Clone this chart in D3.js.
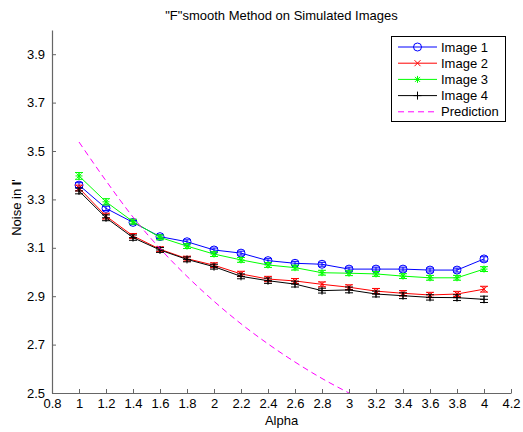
<!DOCTYPE html>
<html>
<head>
<meta charset="utf-8">
<script src="https://cdn.jsdelivr.net/npm/d3@7"></script>
<style>
  html, body { margin: 0; padding: 0; background: #fff; }
  svg { display: block; font-family: "Liberation Sans", Arial, Helvetica, sans-serif; }
</style>
</head>
<body>
<svg id="chart" width="523" height="432"></svg>
<script>
// ---- data ----
const alphas = [1.0, 1.2, 1.4, 1.6, 1.8, 2.0, 2.2, 2.4, 2.6, 2.8, 3.0, 3.2, 3.4, 3.6, 3.8, 4.0];
const image1 = [3.359, 3.263, 3.205, 3.146, 3.125, 3.091, 3.078, 3.047, 3.036, 3.032, 3.012, 3.012, 3.012, 3.008, 3.008, 3.054];
const image2 = [3.347, 3.231, 3.149, 3.094, 3.055, 3.028, 2.992, 2.971, 2.963, 2.949, 2.937, 2.921, 2.912, 2.905, 2.909, 2.929];
const image3 = [3.397, 3.290, 3.208, 3.143, 3.107, 3.074, 3.050, 3.029, 3.018, 2.997, 2.995, 2.992, 2.983, 2.976, 2.976, 3.012];
const image4 = [3.335, 3.224, 3.142, 3.091, 3.052, 3.022, 2.982, 2.964, 2.950, 2.923, 2.926, 2.909, 2.902, 2.895, 2.894, 2.887];
const err1 = [0.010, 0.009, 0.008, 0.008, 0.008, 0.008, 0.008, 0.008, 0.008, 0.008, 0.008, 0.008, 0.008, 0.008, 0.008, 0.009];
const err2 = [0.012, 0.012, 0.010, 0.010, 0.010, 0.010, 0.011, 0.011, 0.010, 0.010, 0.010, 0.011, 0.011, 0.011, 0.011, 0.012];
const err3 = [0.014, 0.013, 0.010, 0.010, 0.010, 0.010, 0.010, 0.010, 0.010, 0.010, 0.010, 0.010, 0.010, 0.010, 0.010, 0.010];
const err4 = [0.012, 0.012, 0.011, 0.010, 0.010, 0.010, 0.010, 0.011, 0.012, 0.010, 0.012, 0.012, 0.012, 0.011, 0.012, 0.013];
const predAlpha = [1.0, 1.2, 1.4, 1.6, 1.8, 2.0, 2.2, 2.4, 2.6, 2.8, 3.0];
const prediction = [3.537, 3.377, 3.227, 3.097, 2.982, 2.879, 2.786, 2.703, 2.628, 2.560, 2.500];
const xTicks = [0.8, 1.0, 1.2, 1.4, 1.6, 1.8, 2.0, 2.2, 2.4, 2.6, 2.8, 3.0, 3.2, 3.4, 3.6, 3.8, 4.0, 4.2];
const xTickLabels = ["0.8", "1", "1.2", "1.4", "1.6", "1.8", "2", "2.2", "2.4", "2.6", "2.8", "3", "3.2", "3.4", "3.6", "3.8", "4", "4.2"];
const yTicks = [2.5, 2.7, 2.9, 3.1, 3.3, 3.5, 3.7, 3.9];
const yTickLabels = ["2.5", "2.7", "2.9", "3.1", "3.3", "3.5", "3.7", "3.9"];
const seriesNames = ["Image 1", "Image 2", "Image 3", "Image 4", "Prediction"];
const titleText = "\"F\"smooth Method on Simulated Images";

// ---- setup ----
const svg = d3.select("#chart");
const L = 52, R = 511, T = 30, B = 393;
const x = d3.scaleLinear().domain([0.8, 4.2]).range([L, R]);
const y = d3.scaleLinear().domain([2.5, 4.0]).range([B, T]);
const axisColor = "#666";
const fs = 13;

// clip
svg.append("defs").append("clipPath").attr("id", "clip")
  .append("rect").attr("x", L).attr("y", T).attr("width", R - L).attr("height", B - T);

// axes
const xAxis = d3.axisBottom(x).tickValues(xTicks)
  .tickFormat((d, i) => xTickLabels[i]).tickSizeInner(-4).tickSizeOuter(0).tickPadding(6);
const yAxis = d3.axisLeft(y).tickValues(yTicks)
  .tickFormat((d, i) => yTickLabels[i]).tickSizeInner(-4).tickSizeOuter(0).tickPadding(7);

const gx = svg.append("g").attr("transform", `translate(0,${B})`).call(xAxis);
const gy = svg.append("g").attr("transform", `translate(${L},0)`).call(yAxis);
[gx, gy].forEach(g => {
  g.select(".domain").attr("stroke", axisColor).attr("stroke-width", 1.2);
  g.selectAll(".tick line").attr("stroke", axisColor);
  g.selectAll(".tick text").attr("fill", "#000").style("font-size", fs + "px")
    .style("font-family", "'Liberation Sans', Arial, sans-serif");
});

// title & labels
svg.append("text").attr("x", (L + R) / 2).attr("y", 20).attr("text-anchor", "middle")
  .style("font-size", fs + "px").text(titleText);
svg.append("text").attr("x", (L + R) / 2).attr("y", 425).attr("text-anchor", "middle")
  .style("font-size", fs + "px").text("Alpha");
const yl = svg.append("text").attr("transform", `translate(21,${(T + B) / 2 - 4}) rotate(-90)`)
  .attr("text-anchor", "middle").style("font-size", fs + "px");
yl.append("tspan").text("Noise in ");
yl.append("tspan").style("font-weight", "bold").text("I");
yl.append("tspan").text("'");

// marker drawers
function drawMarker(g, type, cx, cy, color) {
  if (type === "o") {
    g.append("circle").attr("cx", cx).attr("cy", cy).attr("r", 4)
      .attr("fill", "none").attr("stroke", color).attr("stroke-width", 1);
  } else if (type === "x") {
    const s = 3;
    g.append("path").attr("d", `M${cx - s},${cy - s}L${cx + s},${cy + s}M${cx - s},${cy + s}L${cx + s},${cy - s}`)
      .attr("stroke", color).attr("stroke-width", 1).attr("fill", "none");
  } else if (type === "*") {
    const s = 3.5, d = 2.5;
    g.append("path").attr("d", `M${cx - s},${cy}L${cx + s},${cy}M${cx},${cy - s}L${cx},${cy + s}M${cx - d},${cy - d}L${cx + d},${cy + d}M${cx - d},${cy + d}L${cx + d},${cy - d}`)
      .attr("stroke", color).attr("stroke-width", 1).attr("fill", "none");
  } else if (type === "+") {
    const s = 4;
    g.append("path").attr("d", `M${cx - s},${cy}L${cx + s},${cy}M${cx},${cy - s}L${cx},${cy + s}`)
      .attr("stroke", color).attr("stroke-width", 1).attr("fill", "none");
  }
}

const series = [
  { name: seriesNames[0], vals: image1, err: err1, color: "#0000ff", marker: "o" },
  { name: seriesNames[1], vals: image2, err: err2, color: "#ff0000", marker: "x" },
  { name: seriesNames[2], vals: image3, err: err3, color: "#00ff00", marker: "*" },
  { name: seriesNames[3], vals: image4, err: err4, color: "#000000", marker: "+" }
];

const plot = svg.append("g").attr("clip-path", "url(#clip)");
const line = d3.line().x(d => x(d[0])).y(d => y(d[1]));
const cap = 4;

series.forEach(s => {
  const g = plot.append("g");
  const pts = alphas.map((a, i) => [a, s.vals[i]]);
  g.append("path").attr("d", line(pts)).attr("fill", "none")
    .attr("stroke", s.color).attr("stroke-width", 1);
  alphas.forEach((a, i) => {
    const cx = x(a), y1 = y(s.vals[i] + s.err[i]), y2 = y(s.vals[i] - s.err[i]);
    g.append("path").attr("d", `M${cx},${y1}L${cx},${y2}M${cx - cap},${y1}L${cx + cap},${y1}M${cx - cap},${y2}L${cx + cap},${y2}`)
      .attr("stroke", s.color).attr("stroke-width", 1).attr("fill", "none");
    drawMarker(g, s.marker, cx, y(s.vals[i]), s.color);
  });
});

// prediction
plot.append("path")
  .attr("d", d3.line().curve(d3.curveMonotoneX).x(d => x(d[0])).y(d => y(d[1]))(predAlpha.map((a, i) => [a, prediction[i]])))
  .attr("fill", "none").attr("stroke", "#ff00ff").attr("stroke-width", 1)
  .attr("stroke-dasharray", "6,4");

// legend
const lg = svg.append("g");
lg.append("rect").attr("x", 391.5).attr("y", 36.5).attr("width", 114).attr("height", 85)
  .attr("fill", "#fff").attr("stroke", "#000").attr("stroke-width", 1);
const legendItems = series.concat([{ name: seriesNames[4], color: "#ff00ff", marker: null, dash: true }]);
legendItems.forEach((s, i) => {
  const cy = 47 + i * 16.2;
  lg.append("line").attr("x1", 398).attr("x2", 437).attr("y1", cy).attr("y2", cy)
    .attr("stroke", s.color).attr("stroke-width", 1)
    .attr("stroke-dasharray", s.dash ? "6,4" : null);
  if (s.marker) drawMarker(lg, s.marker, 417.5, cy, s.color);
  lg.append("text").attr("x", 441).attr("y", cy + 4.5).style("font-size", fs + "px").text(s.name);
});
</script>
</body>
</html>
